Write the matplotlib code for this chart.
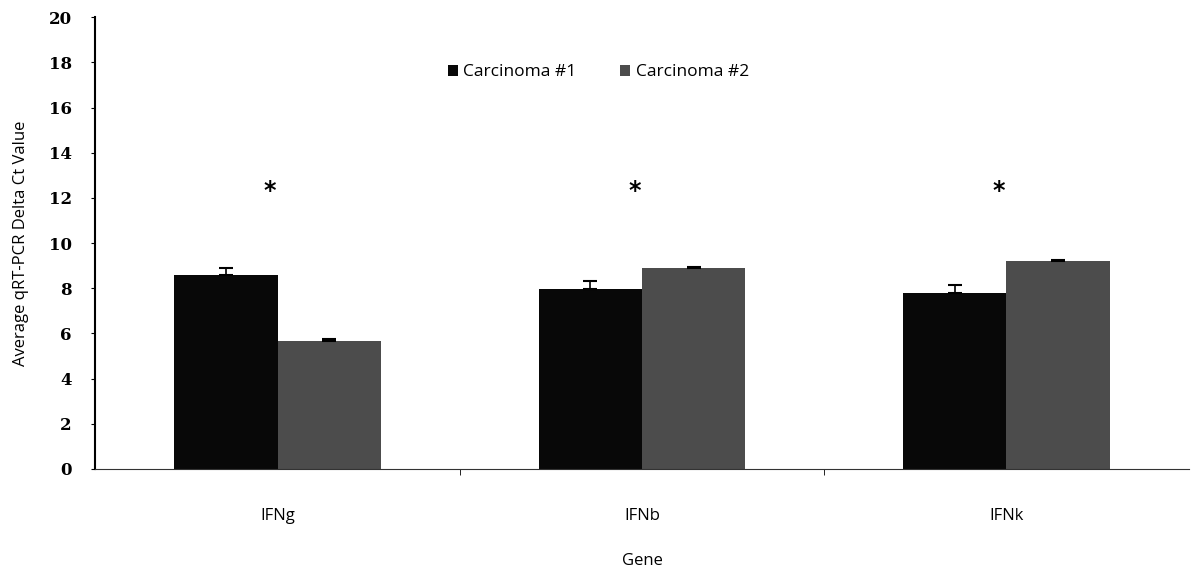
import matplotlib; matplotlib.use("Agg")
import matplotlib.pyplot as plt
import numpy as np

genes = ["IFNg", "IFNb", "IFNk"]
carc1 = [8.6, 7.95, 7.8]
carc1_err = [0.3, 0.35, 0.35]
carc2 = [5.65, 8.9, 9.2]
carc2_err = [0.12, 0.05, 0.05]
star_y = [12.3, 12.3, 12.3]

fig = plt.figure(figsize=(11.91, 5.74), dpi=100)
ax = fig.add_axes([0.080, 0.183, 0.918, 0.787])

x = np.arange(len(genes))
w = 0.283
ekw = dict(ecolor="black", capsize=5, lw=1.2, capthick=1.5)
ax.bar(x - w/2, carc1, w, color="#080808", label="Carcinoma #1",
       yerr=[np.zeros(3), carc1_err], error_kw=ekw)
ax.bar(x + w/2, carc2, w, color="#4c4c4c", label="Carcinoma #2",
       yerr=[np.zeros(3), carc2_err], error_kw=ekw)

for xi, sy in zip(x, star_y):
    ax.text(xi - 0.02, sy, "*", ha="center", va="center", fontsize=17, fontweight="bold")

ax.set_xlim(-0.5, 2.5)
ax.set_ylim(0, 20)
ax.set_yticks(range(0, 21, 2))
ax.set_xticks(x)
ax.set_xticklabels(genes, fontsize=12, family="Open Sans")
ax.set_xticks([0.5, 1.5], minor=True)
ax.tick_params(axis="x", which="major", length=0, pad=28)
ax.tick_params(axis="x", which="minor", length=4, direction="out")
ax.tick_params(axis="y", length=3, direction="out", pad=14)
for lbl in ax.get_yticklabels():
    lbl.set_family("DejaVu Serif")
    lbl.set_fontweight("bold")
    lbl.set_fontsize(12)

ax.spines["top"].set_visible(False)
ax.spines["right"].set_visible(False)
ax.spines["left"].set_linewidth(1.5)
ax.spines["bottom"].set_color("#333333")

ax.set_ylabel("Average qRT-PCR Delta Ct Value", fontsize=12, family="Open Sans", labelpad=14)
fig.text(0.539, 0.022, "Gene", ha="center", va="center", fontsize=12, family="Open Sans")

ax.legend(loc="upper center", bbox_to_anchor=(0.46, 0.93), ncol=2, frameon=False,
          prop={"family": "Open Sans", "size": 12.5}, handlelength=0.6, handleheight=0.6,
          handletextpad=0.3, columnspacing=2.5)

fig.savefig("out.png", dpi=100)
